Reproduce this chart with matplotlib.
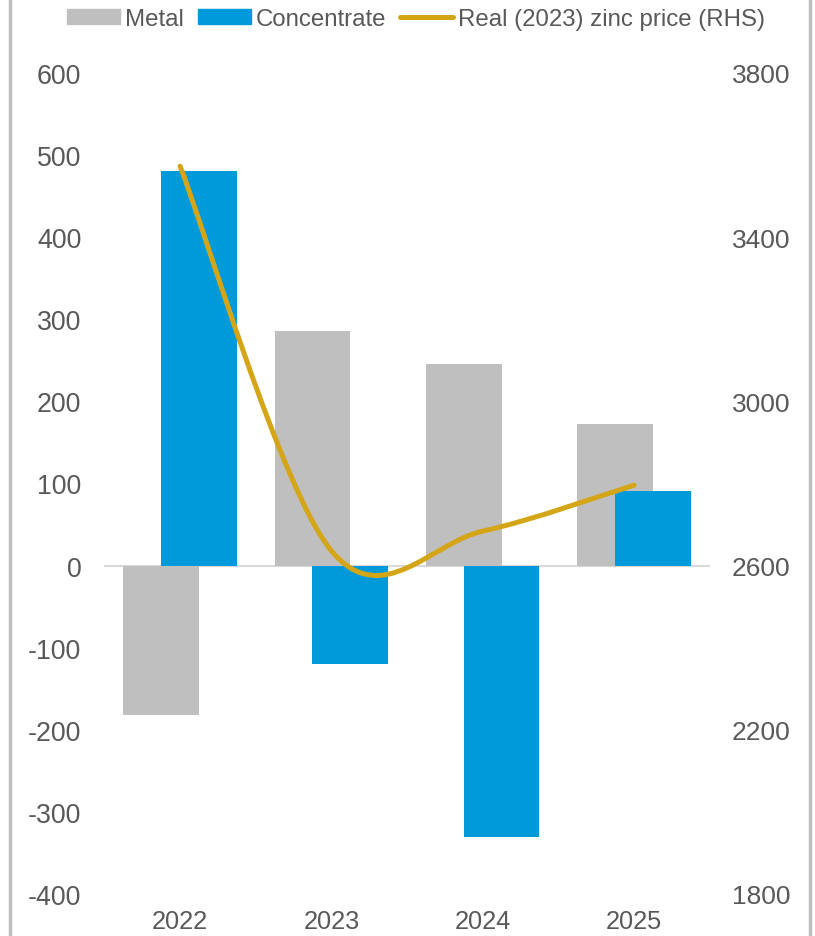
import numpy as np
import matplotlib
matplotlib.use("Agg")
import matplotlib.pyplot as plt
from matplotlib.path import Path
from matplotlib.patches import PathPatch, Patch
from matplotlib.lines import Line2D
from matplotlib.ticker import FuncFormatter

plt.rcParams['font.family'] = ['Liberation Sans', 'DejaVu Sans']
plt.rcParams['axes.unicode_minus'] = False

years = ["2022", "2023", "2024", "2025"]
metal = [-182, 286, 246, 173]
concentrate = [481, -120, -331, 91]
zinc_price = [3573, 2636, 2684, 2796]

C_METAL = "#BFBFBF"
C_CONC = "#009ADA"
C_LINE = "#D4A617"
TXT = "#595959"

W, H = 815, 937
fig = plt.figure(figsize=(W / 100, H / 100), dpi=100)
left, right, top, bottom = 104.4, 709.7, 74, 895
ax = fig.add_axes([left / W, (H - bottom) / H, (right - left) / W, (bottom - top) / H])

x = np.arange(len(years))
bw = 0.5
ax.bar(x - 0.125, metal, width=bw, color=C_METAL, zorder=2)
ax.bar(x + 0.125, concentrate, width=bw, color=C_CONC, zorder=3)
ax.axhline(0, color="#D9D9D9", lw=1.5, zorder=1)
ax.set_xlim(-0.5, len(years) - 0.5)
ax.set_ylim(-400, 600)
ax.set_yticks(np.arange(-400, 601, 100))
ax.yaxis.set_major_formatter(FuncFormatter(lambda v, p: f"{v:.0f}"))
ax.set_xticks(x)
ax.set_xticklabels(years)
for s in ax.spines.values():
    s.set_visible(False)
ax.tick_params(axis='both', length=0, colors=TXT)
ax.tick_params(axis='y', pad=16.5, labelsize=19.3)
ax.tick_params(axis='x', pad=10.5, labelsize=18.3)

ax2 = ax.twinx()
ax2.set_ylim(1800, 3800)
ax2.set_yticks(np.arange(1800, 3801, 400))
for s in ax2.spines.values():
    s.set_visible(False)
ax2.tick_params(axis='y', length=0, labelsize=19, colors=TXT, pad=16)

# Excel-style smoothed line (Bezier with Catmull-Rom control points)
pts = np.column_stack([x.astype(float), np.array(zinc_price, float)])
n = len(pts)
verts = [tuple(pts[0])]
codes = [Path.MOVETO]
for i in range(n - 1):
    p0 = pts[max(i - 1, 0)]
    p1 = pts[i]
    p2 = pts[i + 1]
    p3 = pts[min(i + 2, n - 1)]
    c1 = p1 + (p2 - p0) / 6.0
    c2 = p2 - (p3 - p1) / 6.0
    verts += [tuple(c1), tuple(c2), tuple(p2)]
    codes += [Path.CURVE4] * 3
path = Path(verts, codes)
ax2.add_patch(PathPatch(path, facecolor='none', edgecolor=C_LINE, lw=3.6,
                        capstyle='round', joinstyle='round', zorder=5))

handles = [Patch(color=C_METAL), Patch(color=C_CONC),
           Line2D([], [], color=C_LINE, lw=3.6, solid_capstyle='round')]
labels = ["Metal", "Concentrate", "Real (2023) zinc price (RHS)"]
fig.legend(handles, labels, loc='center', bbox_to_anchor=(416 / W, 1 - 20 / H), ncol=3,
           frameon=False, fontsize=17.3, labelcolor=TXT, handlelength=2.2,
           handleheight=0.55, handletextpad=0.2, columnspacing=0.6, borderpad=0)

fig.add_artist(Line2D([10 / W, 10 / W], [0, 1], color="#BFBFBF", lw=2.5, transform=fig.transFigure))
fig.add_artist(Line2D([810 / W, 810 / W], [0, 1], color="#BFBFBF", lw=2.5, transform=fig.transFigure))

fig.savefig("out.png", dpi=100)
